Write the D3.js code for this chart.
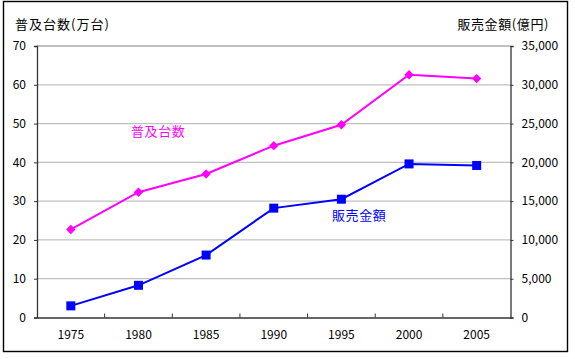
<!DOCTYPE html>
<html><head><meta charset="utf-8">
<script src="https://cdn.jsdelivr.net/npm/d3@7"></script>
<style>
body{margin:0;background:#fff;}
text{font-family:"Noto Sans CJK JP","Noto Sans",sans-serif;}
</style></head>
<body><svg id="c" width="575" height="359"></svg>
<script>
const years = ["1975","1980","1985","1990","1995","2000","2005"];
const units = [22.7, 32.3, 37.0, 44.3, 49.7, 62.6, 61.6];      // 普及台数(万台)
const sales = [1500, 4150, 8050, 14100, 15250, 19800, 19600];  // 販売金額(億円)
const leftTicks = [0,10,20,30,40,50,60,70];
const rightTicks = [0,5000,10000,15000,20000,25000,30000,35000];

const svg = d3.select("#c");
const L = 37, R = 510.5, T = 46, B = 317.5;

svg.append("rect").attr("x",3.5).attr("y",1.5).attr("width",564).attr("height",350)
  .attr("fill","#fff").attr("stroke","#000").attr("stroke-width",1.4);

const x = d3.scaleBand().domain(years).range([L,R]);
const yL = d3.scaleLinear().domain([0,70]).range([B,T]);
const yR = d3.scaleLinear().domain([0,35000]).range([B,T]);

// grid
svg.append("g").selectAll("line").data(leftTicks.filter(d=>d>0)).join("line")
  .attr("x1",L).attr("x2",R).attr("y1",d=>yL(d)).attr("y2",d=>yL(d))
  .attr("stroke",d=>d===70?"#808080":"#c0c0c0").attr("stroke-width",1.2);

// left axis
const gl = svg.append("g").attr("transform",`translate(${L},0)`)
  .call(d3.axisLeft(yL).tickValues(leftTicks).tickSize(3).tickPadding(8));
gl.select(".domain").attr("stroke","#333").attr("stroke-width",1.3);
gl.selectAll(".tick line").attr("stroke","#333");
gl.selectAll("text").attr("font-size",12).attr("fill","#000");

// right axis
const gr = svg.append("g").attr("transform",`translate(${R},0)`)
  .call(d3.axisRight(yR).tickValues(rightTicks).tickSize(3).tickPadding(8)
    .tickFormat(d3.format(",")));
gr.select(".domain").attr("stroke","#333").attr("stroke-width",1.3);
gr.selectAll(".tick line").attr("stroke","#333");
gr.selectAll("text").attr("font-size",12).attr("fill","#000");

// bottom axis
const gb = svg.append("g").attr("transform",`translate(0,${B})`)
  .call(d3.axisBottom(x).tickSize(0).tickPadding(13));
gb.select(".domain").attr("stroke","#333").attr("stroke-width",1.3);
gb.selectAll("text").attr("font-size",12).attr("fill","#000");
// tick marks between categories (inside)
svg.append("g").selectAll("line").data(years.slice(1)).join("line")
  .attr("x1",d=>x(d)).attr("x2",d=>x(d)).attr("y1",B).attr("y2",B-4)
  .attr("stroke","#333").attr("stroke-width",1);

const cx = d => x(d)+x.bandwidth()/2;

// series lines
const lineU = d3.line().x((d,i)=>cx(years[i])).y(d=>yL(d));
const lineS = d3.line().x((d,i)=>cx(years[i])).y(d=>yR(d));
svg.append("path").attr("d",lineU(units)).attr("fill","none").attr("stroke","#ff00ff").attr("stroke-width",2);
svg.append("path").attr("d",lineS(sales)).attr("fill","none").attr("stroke","#0000ff").attr("stroke-width",2);

svg.append("g").selectAll("path").data(units).join("path")
  .attr("d",d3.symbol(d3.symbolSquare, 44))
  .attr("transform",(d,i)=>`translate(${cx(years[i])},${yL(d)}) rotate(45)`)
  .attr("fill","#ff00ff");
svg.append("g").selectAll("rect").data(sales).join("rect")
  .attr("x",(d,i)=>cx(years[i])-4.5).attr("y",d=>yR(d)-4.5)
  .attr("width",9).attr("height",9).attr("fill","#0000ff");

// labels
svg.append("text").attr("x",131).attr("y",136).attr("font-size",13).attr("letter-spacing",0.6).attr("fill","#ff00ff").text("普及台数");
svg.append("text").attr("x",332).attr("y",219.5).attr("font-size",13).attr("letter-spacing",0.6).attr("fill","#0000ff").text("販売金額");

svg.append("text").attr("x",15).attr("y",29).attr("font-size",13).attr("letter-spacing",1).attr("fill","#000").text("普及台数(万台)");
svg.append("text").attr("x",549).attr("y",29).attr("text-anchor","end").attr("font-size",13).attr("letter-spacing",0.6).attr("fill","#000").text("販売金額(億円)");
</script></body></html>
